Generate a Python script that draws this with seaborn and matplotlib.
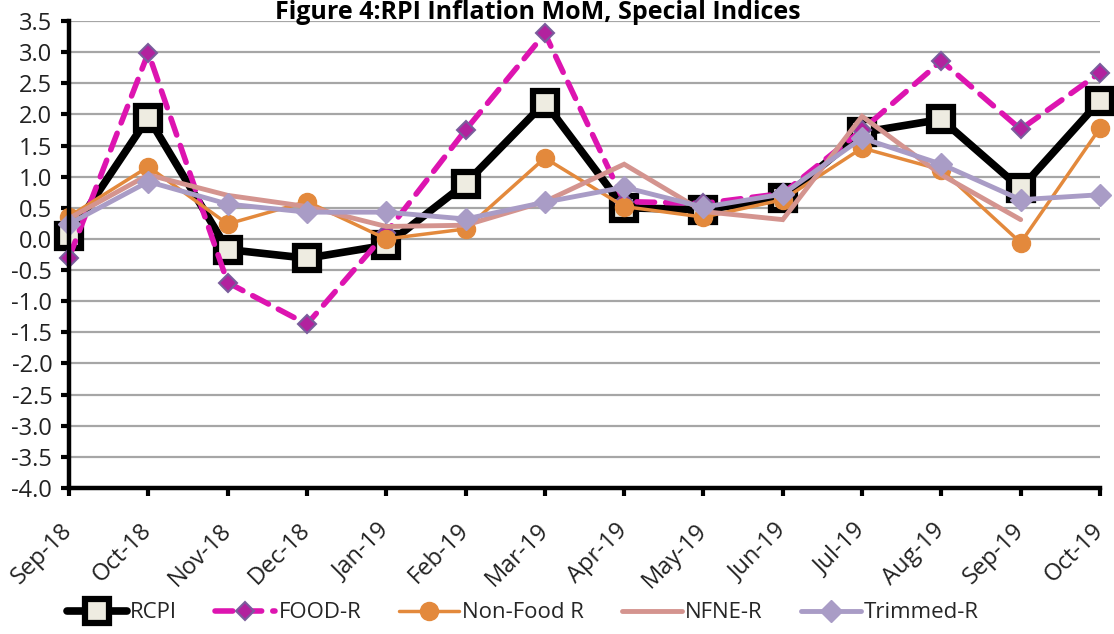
import numpy as np
import pandas as pd
import matplotlib
matplotlib.use("Agg")
import matplotlib.pyplot as plt
import seaborn as sns
from matplotlib import font_manager

months = ["Sep-18", "Oct-18", "Nov-18", "Dec-18", "Jan-19", "Feb-19", "Mar-19",
          "Apr-19", "May-19", "Jun-19", "Jul-19", "Aug-19", "Sep-19", "Oct-19"]
rcpi     = [0.05, 1.95, -0.17, -0.31, -0.10, 0.89, 2.19, 0.50, 0.47, 0.65, 1.71, 1.92, 0.81, 2.22]
food_r   = [-0.30, 2.99, -0.70, -1.37, 0.10, 1.75, 3.30, 0.60, 0.57, 0.73, 1.75, 2.86, 1.76, 2.67]
nonfood  = [0.36, 1.16, 0.24, 0.60, 0.00, 0.16, 1.30, 0.52, 0.35, 0.63, 1.46, 1.11, -0.06, 1.78]
nfne_r   = [0.33, 1.03, 0.70, 0.52, 0.20, 0.22, 0.60, 1.20, 0.44, 0.31, 1.97, 1.03, 0.31, np.nan]
trimmed  = [0.24, 0.92, 0.56, 0.43, 0.43, 0.32, 0.59, 0.83, 0.51, 0.72, 1.62, 1.20, 0.63, 0.71]
series_names = ["RCPI", "FOOD-R", "Non-Food R", "NFNE-R", "Trimmed-R"]
yticks = [3.5, 3.0, 2.5, 2.0, 1.5, 1.0, 0.5, 0.0, -0.5, -1.0, -1.5, -2.0, -2.5, -3.0, -3.5, -4.0]
title = "Figure 4:RPI Inflation MoM, Special Indices"

sns.set_theme(style="white")
avail = {f.name for f in font_manager.fontManager.ttflist}
fam = [f for f in ["Open Sans", "DejaVu Sans"] if f in avail]
plt.rcParams["font.family"] = fam

x = np.arange(len(months))
df = pd.DataFrame({"x": x, "RCPI": rcpi, "FOOD-R": food_r, "Non-Food R": nonfood,
                   "NFNE-R": nfne_r, "Trimmed-R": trimmed})

fig = plt.figure(figsize=(11.14, 6.34), dpi=100)
ax = fig.add_axes([69/1114, 1-488/634, (1100-69)/1114, (488-21)/634])

styles = {
    "RCPI": dict(color="black", lw=5.5, marker="s", ms=17, mfc="#EEECE1", mec="black", mew=4.5),
    "FOOD-R": dict(color="#DD14B0", lw=4.0, marker="D", ms=9, mfc="#B2229E", mec="#7A5C9C", mew=1.5),
    "Non-Food R": dict(color="#E3893C", lw=2.5, marker="o", ms=13, mfc="#E3893C", mec="#E3893C", mew=1),
    "NFNE-R": dict(color="#D4948F", lw=3.5, marker=None),
    "Trimmed-R": dict(color="#A99CC6", lw=3.5, marker="D", ms=11, mfc="#A99CC6", mec="#A99CC6", mew=1),
}
handles = []
for name in series_names:
    st = styles[name]
    kw = dict(color=st["color"], linewidth=st["lw"])
    if st.get("marker"):
        kw.update(marker=st["marker"], markersize=st["ms"], markerfacecolor=st["mfc"],
                  markeredgecolor=st["mec"], markeredgewidth=st["mew"])
    n_before = len(ax.lines)
    sns.lineplot(data=df, x="x", y=name, ax=ax, label=name, legend=False, **kw)
    line = ax.lines[n_before]
    line.set_clip_on(False)
    if name == "FOOD-R":
        line.set_dashes((3.2, 2.0))
        line.set_dash_capstyle("round")
    line.set_solid_joinstyle("miter")
    handles.append(line)

ax.set_xlim(0, 13)
ax.set_ylim(-4.0, 3.5)
ax.set_yticks(yticks)
ax.set_yticklabels([f"{v:.1f}" for v in yticks], fontsize=17)
ax.set_xticks(x)
ax.set_xticklabels(months, rotation=45, ha="right", va="center", rotation_mode="anchor",
                   fontsize=17)
ax.set_xlabel("")
ax.set_ylabel("")
ax.yaxis.grid(True, color="#A6A6A6", linewidth=1.6)
ax.xaxis.grid(False)
ax.set_axisbelow(True)
for s in ["top", "right"]:
    ax.spines[s].set_visible(False)
for s in ["left", "bottom"]:
    ax.spines[s].set_color("black")
    ax.spines[s].set_linewidth(3.2)
ax.tick_params(axis="both", which="both", direction="out", length=6, width=3, color="black",
               left=True, bottom=True, labelcolor="#222222")
ax.tick_params(axis="y", pad=6)
ax.tick_params(axis="x", pad=22)

fig.text(538/1114, 1-19/634, title, ha="center", va="baseline", fontsize=18, fontweight="bold",
         color="black")

leg = fig.legend(handles=handles, labels=series_names, loc="center", ncol=5,
                 bbox_to_anchor=(523/1114, 1-613/634), frameon=False, fontsize=16,
                 handlelength=2.7, handletextpad=0.15, columnspacing=1.7)

fig.savefig("out.png", dpi=100)
